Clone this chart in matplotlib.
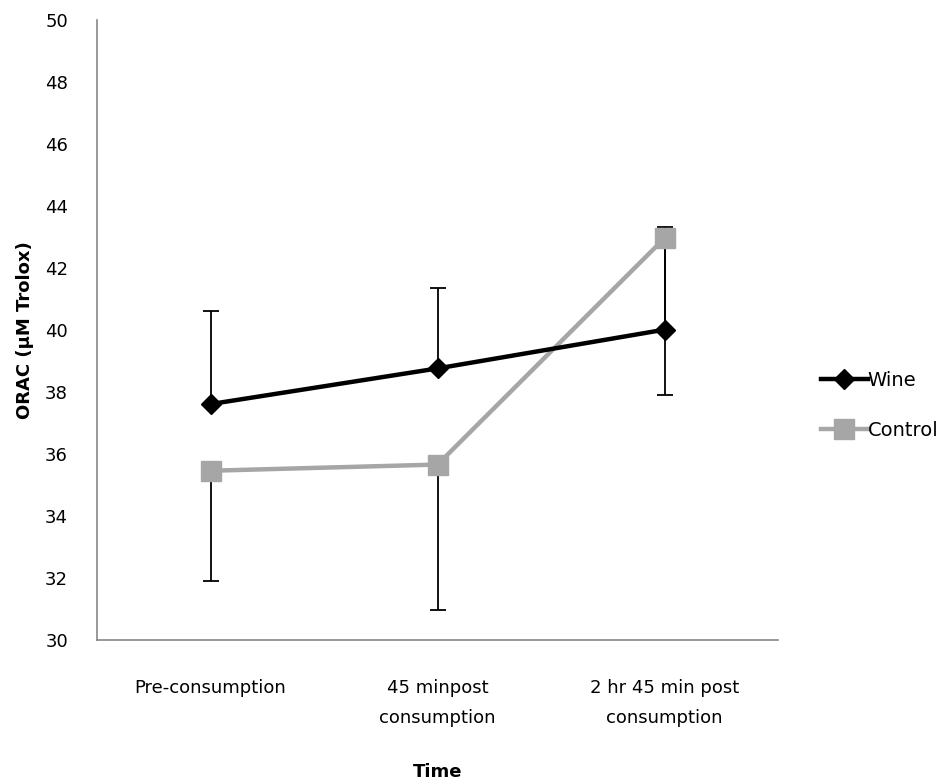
import matplotlib
matplotlib.use("Agg")
import matplotlib.pyplot as plt

plt.rcParams["font.family"] = ["DejaVu Sans"]

categories = ["Pre-consumption", "45 minpost\nconsumption", "2 hr 45 min post\nconsumption"]
wine = [37.6, 38.75, 40.0]
wine_err_up = [3.0, 2.6, 3.3]
control = [35.45, 35.65, 42.95]
control_err_down = [3.55, 4.7, 5.05]
yticks = list(range(30, 51, 2))

fig = plt.figure(figsize=(9.43, 7.84), dpi=100)
ax = fig.add_axes([0.103, 0.184, 0.722, 0.791])

x = [i + 0.5 for i in range(len(categories))]

ax.errorbar(x, wine, yerr=[[0] * 3, wine_err_up], fmt="none", ecolor="black",
            elinewidth=1.3, capsize=6, capthick=1.3, zorder=2)
ax.errorbar(x, control, yerr=[control_err_down, [0] * 3], fmt="none", ecolor="black",
            elinewidth=1.3, capsize=6, capthick=1.3, zorder=2)
ax.plot(x, control, color="#a6a6a6", lw=3.2, marker="s", ms=14, label="Control", zorder=3)
ax.plot(x, wine, color="black", lw=3.2, marker="D", ms=10, label="Wine", zorder=4)

ax.set_xlim(0, 3)
ax.set_ylim(30, 50)
ax.set_yticks(yticks)
ax.set_xticks(x)
ax.set_xticklabels(categories, fontsize=13, linespacing=1.9)
ax.tick_params(axis="x", length=0, pad=28)
ax.tick_params(axis="y", length=0, pad=21, labelsize=13)
for s in ["top", "right"]:
    ax.spines[s].set_visible(False)
for s in ["left", "bottom"]:
    ax.spines[s].set_color("#868686")
    ax.spines[s].set_linewidth(1.2)

ax.set_ylabel("ORAC (µM Trolox)", fontsize=13, fontweight="bold", labelpad=8)
ax.set_xlabel("Time", fontsize=13, fontweight="bold", labelpad=26)

handles, labels = ax.get_legend_handles_labels()
fig.legend(handles[::-1], labels[::-1], loc="center left", bbox_to_anchor=(0.852, 0.483),
           frameon=False, fontsize=14, handlelength=2.4, handletextpad=0.0,
           labelspacing=1.6)

fig.savefig("out.png", dpi=100)
